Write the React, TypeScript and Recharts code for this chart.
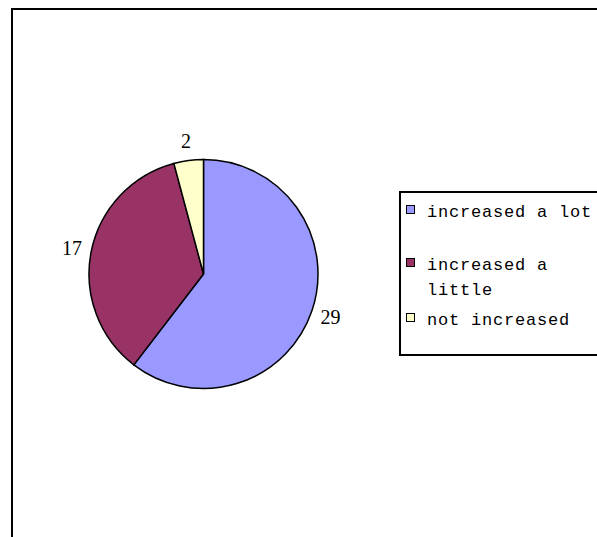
import React from 'react';
import { PieChart, Pie, Cell, Legend } from 'recharts';

const categories = ['increased a lot', 'increased a little', 'not increased'];
const counts = [29, 17, 2];
const colors = ['#9999FF', '#993366', '#FFFFCC'];

const data = categories.map((name, i) => ({ name, value: counts[i] }));

const RAD = Math.PI / 180;

const renderLabel = (props: any) => {
  const { cx, cy, midAngle, outerRadius, value } = props;
  const r = outerRadius + 19.5;
  const x = cx + r * Math.cos(-midAngle * RAD);
  const y = cy + r * Math.sin(-midAngle * RAD);
  return (
    <text
      x={x}
      y={y}
      textAnchor="middle"
      dominantBaseline="central"
      fill="#000"
      style={{ fontFamily: '"Liberation Serif", serif', fontSize: 20 }}
    >
      {value}
    </text>
  );
};

// gap above each legend item (px)
const itemGaps = [7, 28, 5];

// legend keeps the data order (recharts would sort it by name)
const LegendBox = () => (
  <div
    style={{
      border: '2px solid #000',
      borderRight: 'none',
      width: 260,
      height: 161,
      boxSizing: 'content-box',
      background: '#fff',
      fontFamily: '"Liberation Mono", monospace',
      fontSize: 17,
      letterSpacing: 0.8,
      color: '#000',
    }}
  >
    {categories.map((name, i) => (
      <div
        key={name}
        style={{ position: 'relative', marginTop: itemGaps[i], lineHeight: '25px', paddingLeft: 26, width: 170 }}
      >
        <span
          style={{
            position: 'absolute',
            left: 5,
            top: 5,
            width: 7,
            height: 7,
            border: '1.5px solid #000',
            background: colors[i],
          }}
        />
        {name}
      </div>
    ))}
  </div>
);

export default function App() {
  return (
    <div
      style={{
        position: 'absolute',
        left: 0,
        top: 0,
        width: 597,
        height: 537,
        overflow: 'hidden',
        background: '#fff',
      }}
    >
      <div
        style={{
          position: 'absolute',
          left: 11,
          top: 8,
          width: 600,
          height: 540,
          borderLeft: '2px solid #000',
          borderTop: '2px solid #000',
        }}
      />
      <div style={{ position: 'absolute', left: 0, top: 0 }}>
        <PieChart width={597} height={537} margin={{ top: 0, right: 0, bottom: 0, left: 0 }}>
          <Pie
            data={data}
            dataKey="value"
            nameKey="name"
            cx={203.5}
            cy={274}
            outerRadius={114.5}
            startAngle={90}
            endAngle={-270}
            stroke="#000"
            strokeWidth={1.5}
            label={renderLabel}
            labelLine={false}
            isAnimationActive={false}
          >
            {data.map((d, i) => (
              <Cell key={d.name} fill={colors[i]} />
            ))}
          </Pie>
          <Legend
            content={<LegendBox />}
            wrapperStyle={{ position: 'absolute', left: 399, top: 191, width: 'auto', height: 'auto' }}
          />
        </PieChart>
      </div>
    </div>
  );
}
